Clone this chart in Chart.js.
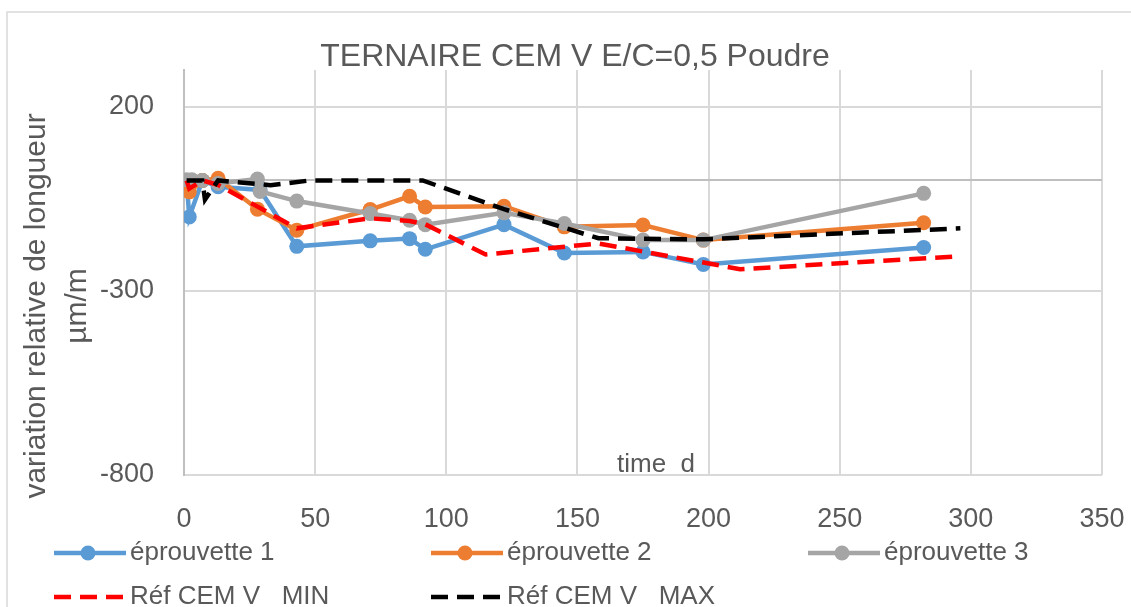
<!DOCTYPE html>
<html>
<head>
<meta charset="utf-8">
<title>TERNAIRE CEM V E/C=0,5 Poudre</title>
<script src="https://cdn.jsdelivr.net/npm/chart.js@4.4.1/dist/chart.umd.min.js"></script>
<style>
    html, body { margin: 0; padding: 0; background: #fff; }
    #wrap { position: relative; width: 1131px; height: 607px; }
</style>
</head>
<body>
<div id="wrap"><canvas id="chart"></canvas></div>
<script>
// mesures de retrait (jours / µm/m)
var chartTitle = "TERNAIRE CEM V E/C=0,5 Poudre";
var yTitle = ["variation relative de longueur", "µm/m"];
var xTitle = "time  d";
var xTicks = [0, 50, 100, 150, 200, 250, 300, 350];
var yTicks = [-800, -300, 200];

var seriesNames = ["éprouvette 1", "éprouvette 2", "éprouvette 3", "Réf CEM V   MIN", "Réf CEM V   MAX"];

var daysEp1 = [1, 2, 7, 13, 29, 43, 71, 86, 92, 122, 145, 175, 198, 282];
var ep1 = [0, -99, 0, -17, -26, -179, -164, -158, -187, -120, -197, -194, -228, -182];

var daysEp2 = [1, 2, 7, 13, 28, 43, 71, 86, 92, 122, 145, 175, 198, 282];
var ep2 = [0, -31, 0, 6, -78, -135, -79, -43, -72, -70, -126, -121, -162, -115];

var daysEp3 = [1, 3, 7, 13, 28, 29, 43, 71, 86, 92, 122, 145, 175, 198, 282];
var ep3 = [2, 2, 0, -8, 4, -30, -56, -90, -108, -120, -88, -117, -162, -162, -35];

var daysMin = [1, 2, 7, 13, 43, 71, 86, 92, 115, 158, 212, 296];
var refMin = [0, -22, 0, -12, -130, -103, -110, -119, -201, -171, -241, -206];

var daysMax = [1, 7, 8, 13, 33, 48, 91, 122, 158, 198, 296];
var refMax = [0, 0, -52, 0, -13, 0, 0, -78, -157, -160, -130];

var FONT = "'Liberation Sans', Arial, sans-serif";
var TEXT = "#595959";

function pts(days, vals) {
    return days.map(function(d, i) { return { x: d, y: vals[i] }; });
}

function serie(label, days, vals, color, order) {
    return {
        label: label,
        data: pts(days, vals),
        borderColor: color,
        backgroundColor: color,
        borderWidth: 4.5,
        pointRadius: 7.5,
        pointHoverRadius: 7.5,
        pointBorderWidth: 0,
        pointBackgroundColor: color,
        tension: 0,
        order: order
    };
}

function ref(label, days, vals, color, order) {
    return {
        label: label,
        data: pts(days, vals),
        borderColor: color,
        backgroundColor: color,
        borderWidth: 4.5,
        borderDash: [17, 9],
        pointRadius: 0,
        tension: 0,
        order: order
    };
}

// titre, titre vertical, "time d", légende et cadre
var decor = {
    id: 'decor',
    beforeDraw: function(chart) {
        var ctx = chart.ctx;
        ctx.save();
        ctx.strokeStyle = '#d9d9d9';
        ctx.lineWidth = 1.5;
        ctx.strokeRect(7, 12, 1400, 900);
        ctx.restore();
    },
    afterDraw: function(chart) {
        var ctx = chart.ctx;
        var area = chart.chartArea;
        ctx.save();
        ctx.fillStyle = TEXT;

        ctx.font = "32px " + FONT;
        ctx.textAlign = 'center';
        ctx.textBaseline = 'middle';
        ctx.fillText(chartTitle, 575, 57);

        // titre de l'axe vertical, deux lignes
        ctx.font = "30px " + FONT;
        ctx.textBaseline = 'alphabetic';
        var baseX = [45, 86];
        for (var i = 0; i < yTitle.length; i++) {
            ctx.save();
            ctx.translate(baseX[i], 306);
            ctx.rotate(-Math.PI / 2);
            ctx.fillText(yTitle[i], 0, 0);
            ctx.restore();
        }

        ctx.font = "26px " + FONT;
        ctx.textAlign = 'left';
        ctx.fillText(xTitle, 617, area.bottom - 3);

        // légende sur 3 colonnes
        var cols = [54, 431, 808];
        var rows = [553, 597];
        chart.data.datasets.forEach(function(ds, k) {
            var x0 = cols[k % 3];
            var y0 = rows[Math.floor(k / 3)];
            ctx.save();
            ctx.strokeStyle = ds.borderColor;
            ctx.lineWidth = ds.borderWidth;
            ctx.setLineDash(ds.borderDash || []);
            ctx.beginPath();
            ctx.moveTo(x0, y0);
            ctx.lineTo(x0 + 72, y0);
            ctx.stroke();
            if (ds.pointRadius > 0) {
                ctx.fillStyle = ds.borderColor;
                ctx.beginPath();
                ctx.arc(x0 + 34, y0, 7.5, 0, Math.PI * 2);
                ctx.fill();
            }
            ctx.restore();
            ctx.font = "26px " + FONT;
            ctx.textAlign = 'left';
            ctx.textBaseline = 'middle';
            ctx.fillStyle = TEXT;
            ctx.fillText(ds.label, x0 + 76, y0);
        });
        ctx.restore();
    }
};

var chart = new Chart(document.getElementById('chart'), {
    type: 'line',
    data: {
        datasets: [
            serie(seriesNames[0], daysEp1, ep1, '#5B9BD5', 5),
            serie(seriesNames[1], daysEp2, ep2, '#ED7D31', 4),
            serie(seriesNames[2], daysEp3, ep3, '#A5A5A5', 3),
            ref(seriesNames[3], daysMin, refMin, '#FF0000', 2),
            ref(seriesNames[4], daysMax, refMax, '#000000', 1)
        ]
    },
    options: {
        responsive: true,
        maintainAspectRatio: false,
        animation: false,
        layout: { padding: { left: 0, right: 29, top: 70, bottom: 0 } },
        plugins: {
            legend: { display: false },
            title: { display: false },
            tooltip: { enabled: false }
        },
        scales: {
            x: {
                type: 'linear',
                min: xTicks[0],
                max: xTicks[xTicks.length - 1],
                afterBuildTicks: function(scale) {
                    scale.ticks = xTicks.map(function(v) { return { value: v }; });
                },
                afterFit: function(scale) {
                    scale.height = 132;
                    scale.paddingLeft = 0;
                    scale.paddingRight = 0;
                },
                grid: { color: '#d9d9d9', lineWidth: 2, drawTicks: false },
                border: { display: false },
                ticks: {
                    padding: 28,
                    color: TEXT,
                    font: { size: 27, family: FONT },
                    maxRotation: 0
                }
            },
            y: {
                min: -800,
                max: 300,
                afterBuildTicks: function(scale) {
                    // 0 ajouté pour tracer l'axe horizontal, sans étiquette
                    var t = yTicks.concat([0]).sort(function(a, b) { return a - b; });
                    scale.ticks = t.map(function(v) { return { value: v }; });
                },
                afterFit: function(scale) { scale.width = 184; },
                grid: {
                    drawTicks: false,
                    lineWidth: 2,
                    color: function(c) { return c.tick && c.tick.value === 0 ? '#bfbfbf' : '#d9d9d9'; }
                },
                border: { display: true, color: '#bfbfbf', width: 2 },
                ticks: {
                    padding: 30,
                    color: TEXT,
                    font: { size: 27, family: FONT },
                    callback: function(v) { return yTicks.indexOf(v) >= 0 ? String(v) : ''; }
                }
            }
        }
    },
    plugins: [decor]
});
</script>
</body>
</html>
